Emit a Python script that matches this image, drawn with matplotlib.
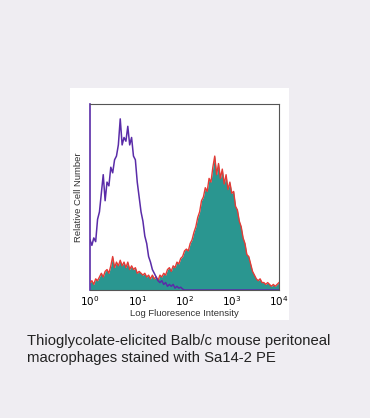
import numpy as np
import matplotlib
matplotlib.use("Agg")
import matplotlib.pyplot as plt

# log10 fluorescence channel positions (0..4 decades)
log_channels = np.round(np.arange(0, 4.0001, 0.04), 2)

isotype_counts = [
    27, 24, 28, 26, 38, 42, 52, 62, 48, 58,      # 0.00-0.36
    56, 66, 63, 70, 72, 78, 92, 78, 82, 80,      # 0.40-0.76
    88, 78, 82, 72, 70, 58, 50, 42, 37, 29,      # 0.80-1.16
    25, 18, 15, 11, 9, 7, 5, 4, 5, 3,            # 1.20-1.56
    4, 2, 3, 2, 3, 1, 2, 1, 1.5, 0.5,            # 1.60-1.96
    0, 0, 0, 0, 0, 0, 0, 0, 0, 0,
    0, 0, 0, 0, 0, 0, 0, 0, 0, 0,
    0, 0, 0, 0, 0, 0, 0, 0, 0, 0,
    0, 0, 0, 0, 0, 0, 0, 0, 0, 0,
    0, 0, 0, 0, 0, 0, 0, 0, 0, 0,
    0,
]

stained_counts = [
    4, 5, 3, 6, 5, 7, 9, 7, 10, 11,              # 0.00-0.36
    9, 13, 18, 12, 15, 13, 16, 13, 15, 12,       # 0.40-0.76
    15, 11, 13, 11, 12, 9, 10, 9, 8, 9,          # 0.80-1.16
    7, 8, 6, 8, 6, 7, 5, 8, 7, 9,                # 1.20-1.56
    8, 11, 12, 10, 13, 12, 15, 14, 17, 18,       # 1.60-1.96
    21, 22, 21, 25, 27, 31, 34, 39, 42, 48,      # 2.00-2.36
    50, 55, 53, 60, 58, 66, 72, 62, 68, 60,      # 2.40-2.76
    65, 57, 62, 54, 58, 52, 53, 45, 43, 37,      # 2.80-3.16
    34, 28, 25, 19, 18, 14, 10, 8, 6, 5,         # 3.20-3.56
    6, 4, 4, 3, 4, 3, 2, 3, 2, 3,                # 3.60-3.96
    4,                                           # 4.00
]

x_ticks = [1, 10, 100, 1000, 10000]
x_tick_labels = [r"$10^0$", r"$10^1$", r"$10^2$", r"$10^3$", r"$10^4$"]

plt.rcParams['font.family'] = ['Liberation Sans', 'DejaVu Sans']

W, H = 370, 418
fig = plt.figure(figsize=(W / 100, H / 100), dpi=100)
fig.patch.set_facecolor("#efedf2")

# white panel behind the chart
panel = fig.add_axes([70 / W, 1 - 320 / H, (289 - 70) / W, (320 - 88) / H], zorder=0)
panel.set_facecolor("white")
panel.set_xticks([])
panel.set_yticks([])
for s in panel.spines.values():
    s.set_visible(False)

ax = fig.add_axes([90 / W, 1 - 290 / H, (279 - 90) / W, (290 - 104) / H], zorder=1)
ax.set_facecolor("white")

xs = 10 ** log_channels
ax.fill_between(xs, stained_counts, 0, color="#2a9690", lw=0, zorder=2)
ax.plot(xs, stained_counts, color="#e53a35", lw=1.0, zorder=3)
ax.plot(xs, isotype_counts, color="#5a2ca8", lw=1.1, zorder=4)

ax.set_xscale("log")
ax.set_xlim(1, 10000)
ax.set_ylim(0, 100)
ax.set_xticks(x_ticks)
ax.set_xticklabels(x_tick_labels, fontsize=7.5)
ax.minorticks_off()
ax.set_yticks([])
ax.tick_params(axis="x", length=0, pad=3)
for side in ["top", "right", "bottom"]:
    ax.spines[side].set_color("#555555")
    ax.spines[side].set_linewidth(0.8)
ax.spines["left"].set_color("#5a2ca8")
ax.spines["left"].set_linewidth(1.2)

ax.set_xlabel("Log Fluoresence Intensity", fontsize=6.8, labelpad=1, color="#333333")
ax.set_ylabel("Relative Cell Number", fontsize=6.8, labelpad=5, color="#333333")

fig.text(27 / W, 1 - 341 / H, "Thioglycolate-elicited Balb/c mouse peritoneal",
         fontsize=10.7, va="center", ha="left", color="#222222")
fig.text(27 / W, 1 - 358 / H, "macrophages stained with Sa14-2 PE",
         fontsize=10.7, va="center", ha="left", color="#222222")

fig.savefig("out.png", dpi=100, facecolor=fig.get_facecolor())
